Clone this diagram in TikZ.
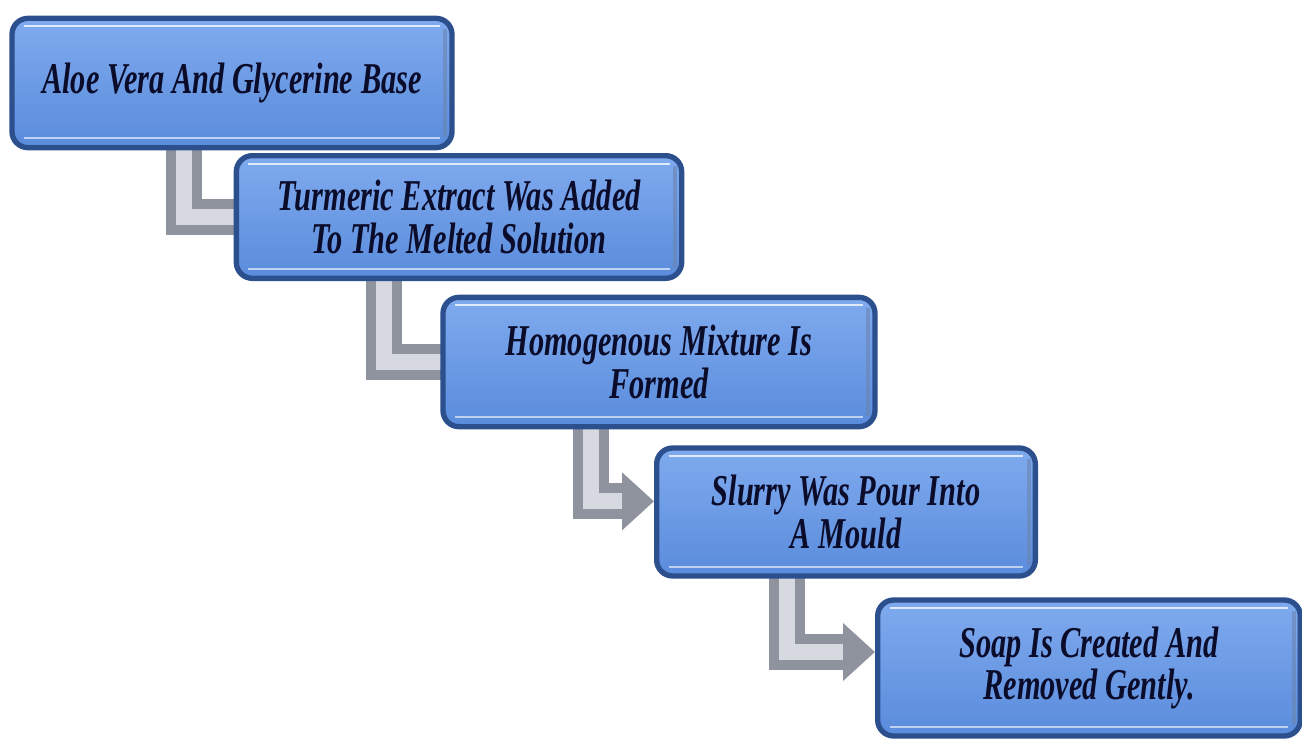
\documentclass[tikz,border=0pt]{standalone}
\usepackage{fontspec}
\setmainfont{Liberation Serif}[FakeStretch=0.69]
\usetikzlibrary{arrows.meta,backgrounds}
\definecolor{cardEdge}{HTML}{2C4F8E}
\definecolor{cardTop}{HTML}{7FAAEE}
\definecolor{cardBottom}{HTML}{5A8CDC}
\definecolor{pipeGrey}{HTML}{8F939E}
\definecolor{pipeLight}{HTML}{D6D9E0}
\definecolor{inkNavy}{HTML}{0B0B2A}
\newcommand{\StepFont}{\fontsize{33}{32}\selectfont\bfseries\itshape}

\begin{document}
\begin{tikzpicture}[x=0.75pt,y=-0.75pt,
  stepcard/.style={
    draw=cardEdge, line width=4pt, rounded corners=12pt,
    top color=cardTop, bottom color=cardBottom,
    minimum width=#1, align=center, font=\StepFont, text=inkNavy,
    path picture={
      \draw[white,opacity=.75,line width=1.6pt]
        ([shift={(9pt,-6pt)}]path picture bounding box.north west) --
        ([shift={(-9pt,-6pt)}]path picture bounding box.north east);
      \draw[white,opacity=.6,line width=1.6pt]
        ([shift={(9pt,7pt)}]path picture bounding box.south west) --
        ([shift={(-9pt,7pt)}]path picture bounding box.south east);
      \draw[cardEdge!70,opacity=.6,line width=3pt]
        ([shift={(-5pt,-8pt)}]path picture bounding box.north east) --
        ([shift={(-5pt,8pt)}]path picture bounding box.south east);
    }
  },
  pipe/.style={
    pipeGrey, line width=27pt, line join=miter,
    postaction={draw=pipeLight, line width=12pt, arrows=-, shorten >=#1}
  },
  pipe/.default=0pt,
  pipe tip/.style={-{Triangle[length=24pt,width=42pt]}}]

  \useasboundingbox (0,0) rectangle (1302,742);

  % Steps, top left to bottom right
  \node[stepcard=330pt, minimum height=97pt] (s1) at (232,83)
    {Aloe Vera And Glycerine Base};
  \node[stepcard=334pt, minimum height=92pt] (s2) at (459,217)
    {Turmeric Extract Was Added\\To The Melted Solution};
  \node[stepcard=324pt, minimum height=97pt] (s3) at (659,362)
    {Homogenous Mixture Is\\Formed};
  \node[stepcard=284pt, minimum height=96pt] (s4) at (846,512)
    {Slurry Was Pour Into\\A Mould};
  \node[stepcard=317pt, minimum height=102pt] (s5) at (1089,668)
    {Soap Is Created And\\Removed Gently.};

  % Bent connectors behind the cards
  \begin{scope}[on background layer]
    \draw[pipe] ([xshift=131pt,yshift=8pt]s1.south west) |- ([xshift=10pt]s2.west);
    \draw[pipe] ([xshift=113pt,yshift=8pt]s2.south west) |- ([xshift=10pt]s3.west);
    \draw[pipe=24pt,pipe tip] ([xshift=113pt,yshift=8pt]s3.south west) |- ([yshift=8pt]s4.west);
    \draw[pipe=24pt,pipe tip] ([xshift=100pt,yshift=8pt]s4.south west) |- ([yshift=12pt]s5.west);
  \end{scope}
\end{tikzpicture}
\end{document}
